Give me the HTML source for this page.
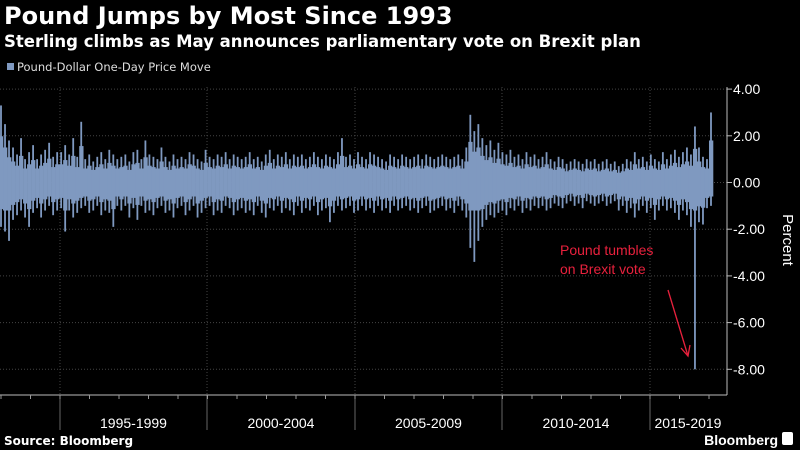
<!DOCTYPE html>
<html><head><meta charset="utf-8"><style>
html,body{margin:0;padding:0;background:#000;}
body{width:800px;height:450px;overflow:hidden;font-family:"Liberation Sans","DejaVu Sans",sans-serif;}
</style></head><body>
<svg id="chart" width="800" height="450" xmlns="http://www.w3.org/2000/svg" style="display:block;background:#000">
<text x="4" y="24" fill="#fff" font-size="24" font-weight="bold" font-family="DejaVu Sans, sans-serif">Pound Jumps by Most Since 1993</text>
<text x="4" y="47" fill="#fff" font-size="16.5" font-weight="bold" font-family="DejaVu Sans, sans-serif">Sterling climbs as May announces parliamentary vote on Brexit plan</text>
<rect x="7" y="63" width="7" height="7" fill="#7f99c0"/>
<text x="17" y="71" fill="#ddd" font-size="11.5" font-family="DejaVu Sans, sans-serif">Pound-Dollar One-Day Price Move</text>
<g id="grid"></g>
<g id="bars"></g>
<g id="axes"></g>
<text x="560" y="255" fill="#e8213d" font-size="14">Pound tumbles</text>
<text x="560" y="274" fill="#e8213d" font-size="14">on Brexit vote</text>
<g stroke="#e8213d" stroke-width="1.3" fill="none">
<line x1="668" y1="290" x2="688" y2="356"/>
<polyline points="681,348 688,356 690,345"/>
</g>
<text x="4" y="445" fill="#fff" font-size="12" font-weight="bold" font-family="DejaVu Sans, sans-serif">Source: Bloomberg</text>
<text x="778" y="445" text-anchor="end" fill="#fff" font-size="14" font-weight="bold">Bloomberg</text>
<rect x="782" y="432" width="11" height="13" rx="2" fill="#fff"/>
<text transform="translate(783,240) rotate(90)" text-anchor="middle" fill="#fff" font-size="15">Percent</text>
</svg>
<script>
const highs=[3.3,2.5,1.8,1.5,1.2,1.9,1.0,1.3,1.6,1.0,1.2,1.4,1.7,1.1,1.3,
1.3,1.6,1.2,1.9,1.1,2.6,1.0,1.2,0.9,1.1,1.3,1.0,1.4,1.2,1.0,
1.1,1.2,0.9,1.3,1.4,1.0,1.8,1.2,1.1,1.0,1.5,1.1,0.9,1.2,1.0,
1.1,1.0,1.3,1.2,1.0,0.9,1.4,1.1,1.0,1.2,1.1,1.3,1.0,1.2,1.1,
1.0,1.1,1.3,1.0,1.1,0.9,1.2,1.4,1.0,1.2,1.1,1.3,1.0,1.2,1.1,
1.2,1.0,1.1,1.3,1.1,1.0,1.2,1.1,1.0,1.3,1.9,1.1,1.2,1.0,1.3,
1.1,1.0,1.3,1.2,1.1,1.0,0.9,1.2,1.1,1.0,1.2,1.1,1.0,1.1,1.2,
1.0,1.2,1.1,1.0,1.1,1.2,1.1,1.0,1.1,1.2,1.0,1.5,2.9,2.2,2.5,
1.9,1.6,1.8,1.4,1.7,1.3,1.2,1.4,1.1,1.2,1.0,1.3,1.1,1.2,1.0,
1.1,1.3,1.0,0.9,1.1,1.0,0.8,0.9,1.0,0.9,0.8,1.0,0.9,1.0,0.8,
0.9,1.0,0.8,0.9,0.7,0.8,1.0,0.9,1.3,1.0,1.1,0.9,1.2,1.0,0.9,
1.3,1.0,1.2,1.4,1.1,1.3,1.5,1.2,2.4,1.5,1.1,1.0,3.0];
const lows=[-1.9,-2.1,-2.5,-1.6,-1.4,-1.2,-1.5,-1.9,-1.3,-1.1,-1.5,-1.2,-1.0,-1.4,-1.2,
-1.1,-2.1,-1.2,-1.5,-1.3,-1.1,-1.0,-1.3,-1.2,-1.0,-1.4,-1.2,-1.3,-1.9,-1.0,
-1.2,-1.0,-1.5,-1.1,-1.6,-1.0,-1.3,-1.2,-1.4,-1.1,-1.0,-1.3,-1.2,-1.5,-1.1,
-1.0,-1.4,-1.2,-1.0,-1.5,-1.3,-1.1,-1.0,-1.4,-1.2,-1.3,-1.0,-1.1,-1.4,-1.2,
-1.1,-1.3,-1.2,-1.4,-1.0,-1.3,-1.5,-1.1,-1.2,-1.0,-1.3,-1.1,-1.2,-1.4,-1.0,
-1.3,-1.1,-1.2,-1.0,-1.4,-1.2,-1.1,-1.7,-1.3,-1.0,-1.2,-1.1,-1.0,-1.3,-1.2,
-1.0,-1.2,-1.1,-1.3,-1.0,-1.2,-1.1,-1.3,-1.0,-1.2,-1.1,-1.0,-1.2,-1.1,-1.3,
-1.1,-1.0,-1.3,-1.2,-1.1,-1.0,-1.2,-1.1,-1.3,-1.0,-1.2,-1.5,-2.8,-3.4,-2.5,
-1.9,-1.6,-1.4,-1.5,-1.3,-1.2,-1.4,-1.1,-1.2,-1.0,-1.3,-1.1,-1.2,-1.0,-1.1,
-1.0,-1.2,-1.1,-0.9,-1.0,-1.1,-0.9,-0.8,-1.0,-0.9,-1.1,-0.8,-0.9,-1.0,-0.9,
-0.8,-1.0,-0.9,-0.8,-1.2,-1.0,-1.3,-1.1,-1.5,-1.2,-1.0,-1.3,-1.1,-1.6,-1.2,
-1.0,-1.2,-1.1,-1.3,-1.6,-1.2,-1.4,-1.9,-8.0,-1.7,-1.8,-1.1,-1.0];
const yTicks=[4,2,0,-2,-4,-6,-8];
const yTickLabels=["4.00","2.00","0.00","-2.00","-4.00","-6.00","-8.00"];
const periodLabels=["1995-1999","2000-2004","2005-2009","2010-2014","2015-2019"];

const NS="http://www.w3.org/2000/svg";
const y0=182.5, pxPerUnit=23.35;
function yScale(v){return y0 - v*pxPerUnit;}
function xScale(i){return 1 + i*(710/(highs.length-1));}
function mk(tag,attrs,parent){const e=document.createElementNS(NS,tag);for(const k in attrs)e.setAttribute(k,attrs[k]);parent.appendChild(e);return e;}
const grid=document.getElementById('grid'), bars=document.getElementById('bars'), axes=document.getElementById('axes');
const sepX=[60,207,355,502,650];
yTicks.forEach((t,k)=>{
  const g=mk('line',{x1:0,x2:727,y1:yScale(t),y2:yScale(t),stroke:'#444','stroke-dasharray':'1,2','stroke-width':1},grid);
  
  
  const tk=mk('line',{x1:727,x2:732,y1:yScale(t),y2:yScale(t),stroke:'#bbb'},axes);
  
  
  const tx=mk('text',{x:733,y:yScale(t)+5,fill:'#fff','font-size':14},axes);
  tx.textContent=yTickLabels[k];
  
  
});
sepX.forEach(x=>{
  const g=mk('line',{x1:x,x2:x,y1:87,y2:395,stroke:'#444','stroke-dasharray':'1,2'},grid);
  
  
  const s=mk('line',{x1:x,x2:x,y1:395,y2:430,stroke:'#666'},axes);
  
  
});
for(let i=0;i<highs.length;i++){
  const x=xScale(i), w=710/(highs.length-1);
  const full=mk('rect',{x:x-0.9,y:yScale(highs[i]),width:1.8,height:yScale(lows[i])-yScale(highs[i]),fill:'#7f99c0'},bars);
  
  
  const hi=highs[i]*0.6, lo=Math.max(lows[i],-2)*0.6;
  const core=mk('rect',{x:x-w/2,y:yScale(hi),width:w+0.3,height:yScale(lo)-yScale(hi),fill:'#7f99c0'},bars);
  
  
}
const ax=mk('line',{x1:727,x2:727,y1:87,y2:395,stroke:'#bbb'},axes);


const bx=mk('line',{x1:0,x2:727,y1:395,y2:395,stroke:'#bbb'},axes);


for(let yr=0;yr<=25;yr++){
  const x=60-29.5*2+yr*29.5; if(x<0||x>727)continue;
  const t=mk('line',{x1:x,x2:x,y1:395,y2:399,stroke:'#999'},axes);
  
  
}
periodLabels.forEach((l,k)=>{
  const cx=k<4?(sepX[k]+sepX[k+1])/2:688;
  const t=mk('text',{x:cx,y:428,'text-anchor':'middle',fill:'#fff','font-size':14},axes);
  t.textContent=l;
  
  
});
</script>
</body></html>
